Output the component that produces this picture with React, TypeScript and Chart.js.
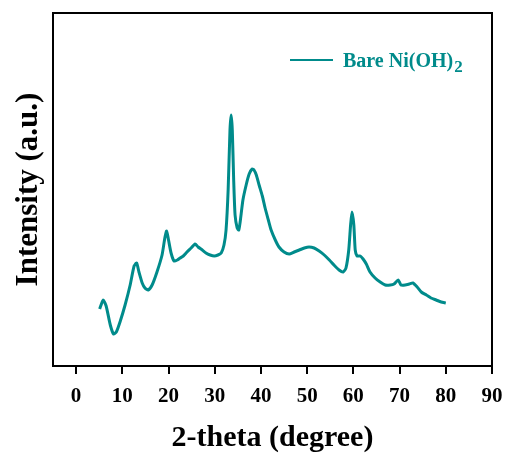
import React, { useEffect, useRef } from "react";
import { Chart, registerables } from "chart.js";

Chart.register(...registerables);

const TWO_THETA: number[] = [
  5.1, 5.85, 6.5, 7.4, 8.1, 8.7, 9.5, 10.6, 11.7, 12.55, 13.1, 13.6, 14.3, 14.9, 15.6, 16.45, 17.5, 18.6, 19.2, 19.6,
  20.0, 20.55, 21.2, 21.9, 22.5, 23.2, 24.0, 24.9, 25.75, 26.4, 27.3, 28.1, 29.0, 29.9, 30.7, 31.4, 32.0, 32.45, 32.9, 33.3,
  33.55, 33.8, 34.1, 34.4, 34.85, 35.2, 35.5, 36.1, 36.8, 37.45, 38.1, 38.5, 39.0, 39.6, 40.3, 40.9, 41.6, 42.2, 43.1, 43.9,
  45.0, 46.1, 47.2, 48.3, 49.4, 50.4, 51.5, 52.6, 53.7, 54.8, 55.8, 56.9, 57.8, 58.4, 59.0, 59.4, 59.7, 60.1, 60.4, 60.8,
  61.5, 62.1, 62.8, 63.6, 64.7, 65.8, 66.9, 68.0, 68.8, 69.7, 70.3, 71.2, 72.1, 72.9, 73.8, 74.7, 75.8, 76.8, 77.9, 79.0, 80.0,
];

const INTENSITY: number[] = [
  57, 66, 60, 41, 32, 34, 44, 61, 81, 100, 103, 94, 83, 78, 76, 81, 94, 111, 128, 135,
  126, 113, 105, 106, 108, 110, 114, 118, 122, 119, 116, 113, 111, 110, 111, 113, 121, 136, 176, 236,
  251, 236, 186, 151, 138, 136, 144, 166, 181, 192, 197, 196, 191, 181, 170, 158, 146, 136, 126, 119,
  114, 112, 114, 116, 118, 119, 118, 115, 111, 106, 101, 96, 94, 98, 116, 141, 154, 141, 116, 110,
  110, 107, 102, 94, 88, 84, 81, 81, 82, 86, 81, 81, 82, 83, 79, 74, 71, 68, 66, 64, 63,
];

const X_TICKS: number[] = [0, 10, 20, 30, 40, 50, 60, 70, 80, 90];
const SERIES_LABEL = "Bare Ni(OH)";
const SERIES_SUB = "2";
const X_TITLE = "2-theta (degree)";
const Y_TITLE = "Intensity (a.u.)";

const TEAL = "#008B8B";
const FONT = "'Liberation Serif', 'Times New Roman', serif";

const framePlugin = {
  id: "frameAndLegend",
  afterDraw(chart: any) {
    const { ctx, chartArea } = chart;
    ctx.save();
    ctx.strokeStyle = "#000";
    ctx.lineWidth = 2;
    ctx.strokeRect(chartArea.left, chartArea.top, chartArea.right - chartArea.left, chartArea.bottom - chartArea.top);
    // legend
    const lx = chartArea.left + 237;
    const ly = chartArea.top + 47;
    ctx.strokeStyle = TEAL;
    ctx.lineWidth = 2;
    ctx.beginPath();
    ctx.moveTo(lx, ly);
    ctx.lineTo(lx + 43, ly);
    ctx.stroke();
    ctx.fillStyle = TEAL;
    ctx.textBaseline = "alphabetic";
    ctx.textAlign = "left";
    ctx.font = `bold 20px ${FONT}`;
    const tx = lx + 53;
    const by = ly + 7;
    ctx.fillText(SERIES_LABEL, tx, by);
    const w = ctx.measureText(SERIES_LABEL).width;
    ctx.font = `bold 17px ${FONT}`;
    ctx.fillText(SERIES_SUB, tx + w + 1, by + 5);
    ctx.restore();
  },
};

export default function App() {
  const ref = useRef<HTMLCanvasElement | null>(null);
  useEffect(() => {
    if (!ref.current) return;
    const data = TWO_THETA.map((x, i) => ({ x, y: INTENSITY[i] }));
    const chart = new Chart(ref.current, {
      type: "line",
      data: {
        datasets: [
          {
            label: SERIES_LABEL + SERIES_SUB,
            data,
            borderColor: TEAL,
            backgroundColor: TEAL,
            borderWidth: 3,
            pointRadius: 0,
            tension: 0.2,
          },
        ],
      },
      options: {
        responsive: false,
        animation: false,
        layout: { padding: { left: 0, top: 13, right: 17, bottom: 0 } },
        plugins: { legend: { display: false }, tooltip: { enabled: false } },
        scales: {
          x: {
            type: "linear",
            min: -5,
            max: 90,
            afterBuildTicks: (scale: any) => {
              scale.ticks = X_TICKS.map((v) => ({ value: v }));
            },
            afterFit: (scale: any) => {
              scale.height = 91;
              scale.paddingLeft = 0;
              scale.paddingRight = 0;
            },
            border: { display: false },
            grid: {
              drawOnChartArea: false,
              drawTicks: true,
              tickLength: 8,
              color: "#000",
              lineWidth: 2,
            },
            ticks: {
              color: "#000",
              padding: 10,
              font: { family: FONT, size: 21, weight: "bold" },
              maxRotation: 0,
              autoSkip: false,
            },
            title: {
              display: true,
              text: X_TITLE,
              color: "#000",
              font: { family: FONT, size: 30, weight: "bold" },
              padding: { top: 0, bottom: 1 },
            },
          },
          y: {
            type: "linear",
            min: 0,
            max: 353,
            afterFit: (scale: any) => {
              scale.width = 53;
              scale.paddingTop = 0;
              scale.paddingBottom = 0;
            },
            border: { display: false },
            grid: { display: false },
            ticks: { display: false },
            title: {
              display: true,
              text: Y_TITLE,
              color: "#000",
              font: { family: FONT, size: 31, weight: "bold" },
              padding: { top: 10, bottom: 0 },
            },
          },
        },
      },
      plugins: [framePlugin],
    });
    return () => chart.destroy();
  }, []);
  return (
    <div style={{ position: "fixed", left: 0, top: 0, width: 509, height: 457, background: "#fff" }}>
      <canvas ref={ref} width={509} height={457} style={{ display: "block" }} />
    </div>
  );
}
